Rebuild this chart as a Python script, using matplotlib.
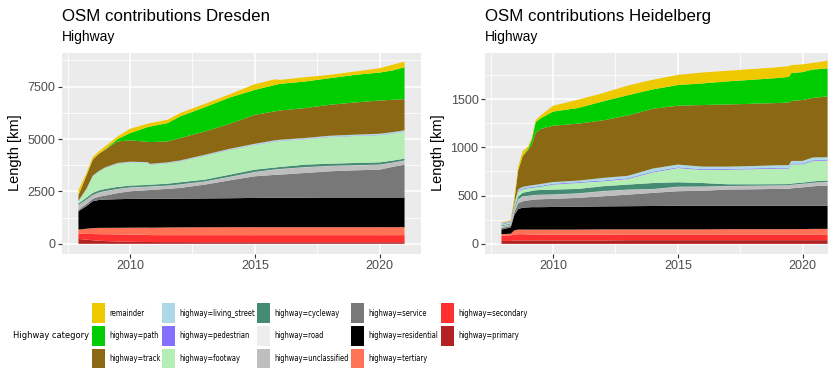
import numpy as np
import matplotlib
matplotlib.use("Agg")
import matplotlib.pyplot as plt
from matplotlib import font_manager
from matplotlib.font_manager import FontProperties
from matplotlib.patches import Rectangle
from matplotlib.ticker import MultipleLocator

# categories, bottom of the stack first
categories = ["highway=primary", "highway=secondary", "highway=tertiary",
              "highway=residential", "highway=service", "highway=unclassified",
              "highway=road", "highway=cycleway", "highway=footway",
              "highway=pedestrian", "highway=living_street", "highway=track",
              "highway=path", "remainder"]
colours = ["#B22222", "#FF3030", "#FF7256", "#000000", "#787878", "#BEBEBE",
           "#EDEDED", "#458B74", "#B4EEB4", "#8470FF", "#ADD8E6", "#8B6914",
           "#00CD00", "#EEC900"]

# Dresden, length per category [km]
years_dd = [2007.93, 2008.25, 2008.5, 2008.75, 2009.0, 2009.5, 2010.0, 2010.7,
            2010.8, 2011.5, 2012, 2013, 2014, 2015, 2015.8, 2016, 2017, 2018,
            2019, 2020, 2020.5, 2021]
dd_primary = [230, 200, 170, 150, 130, 110, 95, 85, 85, 80, 80, 75, 75, 75, 75, 75, 75, 75, 75, 75, 75, 75]
dd_secondary = [246, 270, 295, 310, 325, 340, 349, 345, 330, 332, 332, 337, 337, 337, 337, 337, 337, 337, 337, 337, 337, 337]
dd_tertiary = [206, 250, 285, 302, 307, 315, 326, 345, 355, 368, 373, 378, 381, 381, 381, 381, 381, 381, 381, 381, 381, 381]
dd_residential = [873, 1080, 1281, 1328, 1349, 1365, 1372, 1375, 1380, 1370, 1370, 1375, 1382, 1397, 1407, 1407, 1407, 1417, 1417, 1417, 1417, 1417]
dd_service = [65, 100, 111, 160, 189, 290, 365, 410, 420, 470, 511, 660, 856, 1032, 1090, 1101, 1180, 1250, 1297, 1329, 1456, 1567]
dd_unclassified = [221, 200, 175, 190, 207, 190, 175, 160, 160, 150, 159, 143, 159, 198, 250, 259, 270, 250, 233, 231, 194, 193]
dd_road = [10] * 22
dd_cycleway = [69, 90, 101, 100, 101, 94, 85, 80, 80, 90, 101, 85, 101, 109, 90, 96, 117, 105, 106, 108, 98, 83]
dd_footway = [111, 400, 794, 900, 1000, 1111, 1111, 1050, 960, 980, 1000, 1143, 1190, 1181, 1240, 1239, 1213, 1270, 1289, 1302, 1292, 1287]
dd_pedestrian = [10, 10, 10, 10, 12, 12, 12, 12, 12, 12, 15, 15, 15, 15, 15, 15, 15, 15, 15, 15, 15, 15]
dd_living_street = [15, 20, 20, 20, 20, 22, 22, 25, 25, 25, 28, 30, 32, 40, 45, 45, 45, 48, 48, 48, 50, 50]
dd_track = [264, 623, 763, 820, 840, 1029, 1014, 973, 1039, 1001, 1068, 1113, 1191, 1383, 1380, 1399, 1425, 1476, 1537, 1587, 1547, 1489]
dd_path = [0, 0, 0, 0, 10, 112, 349, 700, 744, 872, 1031, 1159, 1254, 1190, 1260, 1270, 1270, 1269, 1317, 1333, 1396, 1523]
dd_remainder = [240, 127, 127, 112, 150, 126, 205, 160, 160, 160, 159, 158, 159, 272, 270, 190, 205, 159, 158, 207, 270, 270]

# Heidelberg, length per category [km]
years_hd = [2007.93, 2008.3, 2008.45, 2008.6, 2008.78, 2009.0, 2009.15, 2009.3,
            2009.5, 2010, 2011, 2012, 2013, 2014, 2015, 2016, 2017, 2018, 2019,
            2019.45, 2019.55, 2020, 2020.4, 2020.6, 2021]
hd_primary = [30, 30, 35, 35, 35, 35, 35, 35, 35, 35, 35, 35, 38, 38, 38, 38, 38, 38, 38, 38, 38, 38, 38, 38, 38]
hd_secondary = [55, 58, 60, 65, 65, 63, 62, 62, 61, 60, 60, 61, 59, 59, 59, 59, 59, 59, 59, 59, 59, 59, 59, 59, 59]
hd_tertiary = [15, 17, 45, 48, 48, 50, 51, 51, 52, 53, 53, 54, 53, 53, 53, 53, 55, 55, 55, 55, 55, 56, 58, 58, 58]
hd_residential = [48, 65, 160, 212, 227, 230, 232, 232, 232, 234, 237, 238, 240, 242, 245, 245, 243, 243, 243, 243, 243, 242, 240, 240, 240]
hd_service = [17, 15, 30, 60, 65, 72, 75, 80, 82, 84, 91, 105, 120, 136, 150, 155, 167, 170, 174, 175, 180, 190, 200, 205, 208]
hd_unclassified = [15, 15, 30, 40, 50, 45, 45, 45, 45, 44, 45, 52, 50, 38, 45, 42, 35, 35, 34, 35, 35, 35, 35, 35, 35]
hd_road = [2] * 25
hd_cycleway = [8, 8, 18, 28, 38, 43, 46, 48, 49, 50, 46, 50, 52, 62, 46, 36, 18, 15, 13, 12, 12, 13, 14, 14, 15]
hd_footway = [10, 10, 20, 50, 35, 35, 32, 30, 34, 52, 62, 51, 58, 110, 147, 135, 151, 156, 161, 161, 200, 189, 210, 210, 207]
hd_pedestrian = [7, 7, 8, 8, 8, 8, 8, 8, 8, 8, 8, 8, 8, 8, 8, 8, 8, 8, 8, 8, 8, 8, 8, 8, 8]
hd_living_street = [10, 8, 12, 17, 17, 17, 19, 19, 20, 18, 16, 27, 25, 32, 28, 27, 24, 25, 27, 27, 27, 27, 30, 27, 27]
hd_track = [2, 3, 35, 195, 320, 370, 423, 538, 570, 584, 590, 596, 625, 620, 610, 638, 644, 645, 645, 648, 621, 631, 617, 620, 631]
hd_path = [0, 0, 0, 0, 0, 15, 50, 110, 110, 146, 162, 197, 210, 200, 214, 224, 239, 249, 259, 267, 289, 289, 295, 293, 289]
hd_remainder = [5, 7, 35, 40, 50, 25, 20, 20, 30, 60, 86, 86, 100, 100, 105, 113, 110, 111, 111, 110, 83, 80, 68, 72, 80]

dresden = [dd_primary, dd_secondary, dd_tertiary, dd_residential, dd_service,
           dd_unclassified, dd_road, dd_cycleway, dd_footway, dd_pedestrian,
           dd_living_street, dd_track, dd_path, dd_remainder]
heidelberg = [hd_primary, hd_secondary, hd_tertiary, hd_residential, hd_service,
              hd_unclassified, hd_road, hd_cycleway, hd_footway, hd_pedestrian,
              hd_living_street, hd_track, hd_path, hd_remainder]

fonts = font_manager.fontManager.ttflist
names = {f.name for f in fonts}
base_font = "Liberation Sans" if "Liberation Sans" in names else "DejaVu Sans"
plt.rcParams["font.family"] = base_font

# legend uses a narrow face when one is installed
narrow = [f for f in fonts
          if ("Narrow" in f.name or "Condensed" in f.name
              or f.stretch in ("condensed", "semi-condensed", "extra-condensed"))
          and f.style == "normal" and f.weight in (400, "normal", "regular")]
narrow.sort(key=lambda f: ("Sans" not in f.name, f.name))
if narrow:
    legend_fp = FontProperties(fname=narrow[0].fname)
else:
    legend_fp = FontProperties(family=base_font)

W, H = 829, 368
fig = plt.figure(figsize=(W / 100, H / 100), dpi=100)
fig.patch.set_facecolor("white")
renderer = fig.canvas.get_renderer()


def fit_size(label, target_px):
    t = fig.text(0, 0, label, fontproperties=legend_fp, fontsize=10)
    w = t.get_window_extent(renderer).width
    t.remove()
    return 10 * target_px / w


def panel(left_px, years, layers, ymax_lim, ymin_lim, major, city):
    ax = fig.add_axes([left_px / W, 1 - 253.5 / H, 359 / W, 201 / H])
    ax.set_facecolor("#EBEBEB")
    ax.stackplot(years, *layers, colors=colours, linewidth=0, zorder=3)
    ax.set_xlim(2007.27, 2021.66)
    ax.set_ylim(ymin_lim, ymax_lim)
    ax.xaxis.set_major_locator(MultipleLocator(5))
    ax.xaxis.set_minor_locator(MultipleLocator(2.5))
    ax.yaxis.set_major_locator(MultipleLocator(major))
    ax.yaxis.set_minor_locator(MultipleLocator(major / 2))
    ax.grid(which="major", color="white", linewidth=1.1, zorder=1)
    ax.grid(which="minor", color="white", linewidth=0.55, zorder=1)
    ax.set_axisbelow(True)
    for s in ax.spines.values():
        s.set_visible(False)
    ax.tick_params(which="major", length=2.7, width=0.8, color="#333333",
                   labelcolor="#4D4D4D", labelsize=9, pad=2)
    ax.tick_params(which="minor", length=0)
    ax.set_ylabel("Length [km]", fontsize=10.5, labelpad=4)
    fig.text(left_px / W, 1 - 21 / H, "OSM contributions " + city,
             fontsize=12.2, ha="left", va="baseline")
    fig.text(left_px / W, 1 - 40.5 / H, "Highway", fontsize=10,
             ha="left", va="baseline")
    return ax


panel(62, years_dd, dresden, 9131, -463, 2500, "Dresden")
panel(485, years_hd, heidelberg, 1982, -100, 500, "Heidelberg")

# legend, three rows filled column by column
legend_cols = [["remainder", "highway=path", "highway=track"],
               ["highway=living_street", "highway=pedestrian", "highway=footway"],
               ["highway=cycleway", "highway=road", "highway=unclassified"],
               ["highway=service", "highway=residential", "highway=tertiary"],
               ["highway=secondary", "highway=primary"]]
col_x = [92, 162, 257, 351, 441]
row_top = [303.3, 326, 348.5]
entry_size = min(fit_size("highway=living_street", 76), 9)
title_size = min(fit_size("Highway category", 76), 11)
for cx, col in zip(col_x, legend_cols):
    for r, name in enumerate(col):
        colour = colours[categories.index(name)]
        fig.patches.append(Rectangle((cx / W, 1 - (row_top[r] + 20) / H),
                                     13.3 / W, 20 / H, facecolor=colour,
                                     edgecolor="none",
                                     transform=fig.transFigure, figure=fig))
        fig.text((cx + 17) / W, 1 - (row_top[r] + 10) / H, name,
                 fontproperties=legend_fp, fontsize=entry_size,
                 ha="left", va="center", color="black")
fig.text(89 / W, 1 - 336 / H, "Highway category", fontproperties=legend_fp,
         fontsize=title_size, ha="right", va="center")

fig.savefig("out.png", dpi=100)
